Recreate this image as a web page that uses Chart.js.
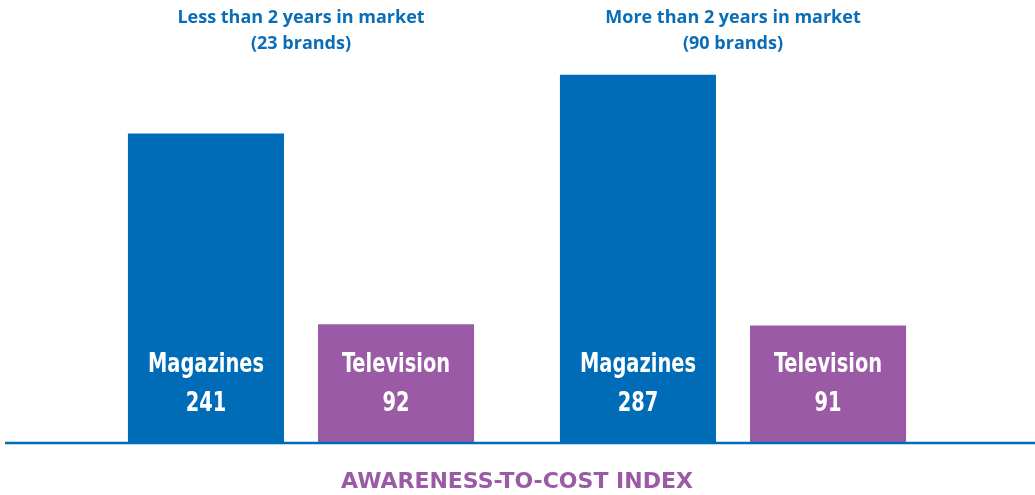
<!DOCTYPE html>
<html>
    <head>
        <title>Awareness-to-cost index</title>
        <script src="https://cdn.jsdelivr.net/npm/chart.js@4.4.0/dist/chart.umd.min.js"></script>
        <style>
            body { margin: 0; background: #ffffff; }
            #wrap { width: 1035px; height: 495px; }
        </style>
    </head>
    <body>
        <div id="wrap"><canvas id="chartnya"></canvas></div>
    </body>
    <script>
        // group headers (shown on top axis)
        const groupLabels = [
            ['Less than 2 years in market', '(23 brands)'],
            ['More than 2 years in market', '(90 brands)']
        ];
        const seriesNames = ['Magazines', 'Television'];
        const magazinesIdx = [241, 287];
        const televisionIdx = [92, 91];
        const axisTitle = 'AWARENESS-TO-COST INDEX';

        const BLUE = '#006bb6';
        const PURPLE = '#9b5aa6';
        const narrowFont = "'Liberation Sans Narrow', 'DejaVu Sans Condensed', sans-serif";

        // name + value written inside each bar (squeezed a bit, the original uses a condensed face)
        const barTextPlugin = {
            id: 'barText',
            afterDatasetsDraw(chart) {
                const ctx = chart.ctx;
                const put = (txt, x, y) => {
                    ctx.save();
                    ctx.translate(x, y);
                    ctx.scale(0.8, 1);
                    ctx.fillText(txt, 0, 0);
                    ctx.restore();
                };
                ctx.save();
                ctx.fillStyle = '#ffffff';
                ctx.textAlign = 'center';
                ctx.textBaseline = 'middle';
                ctx.font = 'bold 27px ' + narrowFont;
                chart.data.datasets.forEach((ds, i) => {
                    chart.getDatasetMeta(i).data.forEach((bar, j) => {
                        put(ds.label, bar.x, bar.base - 77);
                        put(String(ds.data[j]), bar.x, bar.base - 38);
                    });
                });
                ctx.restore();
            }
        };

        // long blue baseline running across the whole picture
        const baselinePlugin = {
            id: 'baseline',
            afterDatasetsDraw(chart) {
                const ctx = chart.ctx;
                const y = chart.scales.y.getPixelForValue(0) + 1;
                ctx.save();
                ctx.strokeStyle = BLUE;
                ctx.lineWidth = 2.5;
                ctx.beginPath();
                ctx.moveTo(5, y);
                ctx.lineTo(chart.width, y);
                ctx.stroke();
                ctx.restore();
            }
        };

        var ctx1 = document.getElementById('chartnya').getContext('2d');
        var chartnya = new Chart(ctx1, {
            type: 'bar',
            data: {
                labels: groupLabels,
                datasets: [
                    { label: seriesNames[0], data: magazinesIdx, backgroundColor: BLUE },
                    { label: seriesNames[1], data: televisionIdx, backgroundColor: PURPLE }
                ]
            },
            options: {
                responsive: true,
                maintainAspectRatio: false,
                animation: false,
                layout: { padding: { left: 85, right: 86, top: 4, bottom: 0 } },
                datasets: { bar: { categoryPercentage: 0.88, barPercentage: 0.821 } },
                scales: {
                    x: {
                        position: 'top',
                        grid: { display: false, drawTicks: false },
                        border: { display: false },
                        ticks: {
                            color: '#0a6db7',
                            padding: 1,
                            maxRotation: 0,
                            font: { family: "'Open Sans', sans-serif", size: 18, weight: 'bold', lineHeight: '26px' }
                        }
                    },
                    y: { display: false, min: 0, max: 300 }
                },
                plugins: {
                    legend: { display: false },
                    tooltip: { enabled: false },
                    title: {
                        display: true,
                        position: 'bottom',
                        text: axisTitle,
                        color: PURPLE,
                        padding: { top: 27, bottom: 0 },
                        font: { family: "'DejaVu Sans', sans-serif", size: 22, weight: 'bold', lineHeight: '26px' }
                    }
                }
            },
            plugins: [barTextPlugin, baselinePlugin]
        });
    </script>
</html>
